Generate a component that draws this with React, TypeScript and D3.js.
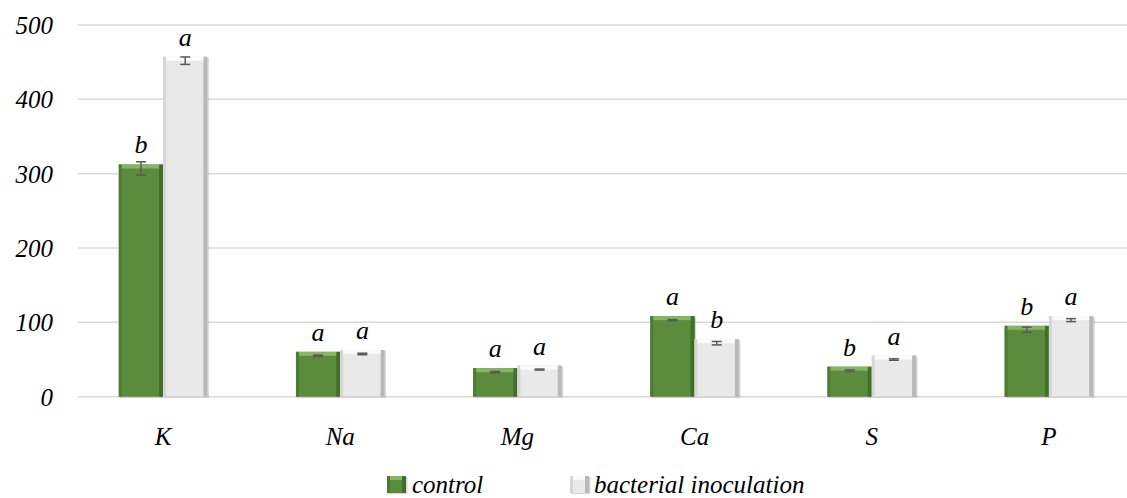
import React, {useEffect, useRef} from 'react'
import * as d3 from 'd3'

// elements on the x axis
const categories = ['K', 'Na', 'Mg', 'Ca', 'S', 'P']
const seriesNames = ['control', 'bacterial inoculation']

// means (centre of the error bars)
const controlValues = [307, 55, 33, 103, 35, 90]
const inoculationValues = [452, 57.5, 36.5, 72, 50, 103]

// error half-widths
const controlErrors = [9, 1, 1, 0.7, 1, 3.6]
const inoculationErrors = [5, 1, 0.7, 2.3, 1, 2]

// significance letters
const controlLetters = ['b', 'a', 'a', 'a', 'b', 'b']
const inoculationLetters = ['a', 'a', 'a', 'b', 'a', 'a']

const yTicks = [0, 100, 200, 300, 400, 500]

const W = 1127
const H = 498
const FONT = 'Liberation Serif, Times New Roman, serif'

// flat colours for the bevelled bars
const greenLook = {base: '#5b8c3d', left: '#4d7c31', right: '#426e28', top: '#86b563'}
const whiteLook = {base: '#e9e9e9', left: '#d6d6d6', right: '#b9b9b9', top: '#fbfbfb'}

function drawBar(g: any, x: number, y: number, w: number, h: number, look: any) {
    g.append('rect').attr('x', x + 1.5).attr('y', y + 1).attr('width', w).attr('height', h)
        .attr('fill', '#000').attr('opacity', 0.16)
    g.append('rect').attr('x', x).attr('y', y).attr('width', w).attr('height', h).attr('fill', look.base)
    g.append('rect').attr('x', x).attr('y', y).attr('width', 3).attr('height', h).attr('fill', look.left)
    g.append('rect').attr('x', x + w - 4).attr('y', y).attr('width', 4).attr('height', h).attr('fill', look.right)
    g.append('rect').attr('x', x + 3).attr('y', y).attr('width', w - 7).attr('height', Math.min(4, h)).attr('fill', look.top)
}

export default function App() {
    const node = useRef<SVGSVGElement>(null)

    useEffect(() => {
        const svg = d3.select(node.current)
        svg.selectAll('*').remove()

        const x = d3.scaleBand<string>()
            .domain(categories)
            .range([74.5, 1137.5])
            .paddingInner(0.5)
            .paddingOuter(0.25)

        const xInner = d3.scaleBand<string>()
            .domain(seriesNames)
            .range([0, x.bandwidth()])

        const y = d3.scaleLinear()
            .domain([0, 500])
            .range([396.7, 25])

        const capLift = 4 // bevel of the bars sits a bit above the mean

        const series = [
            {name: seriesNames[0], values: controlValues, errors: controlErrors, letters: controlLetters, look: greenLook},
            {name: seriesNames[1], values: inoculationValues, errors: inoculationErrors, letters: inoculationLetters, look: whiteLook},
        ]

        const label = (tx: number, ty: number, size: number, anchor: string, s: string) =>
            svg.append('text')
                .attr('x', tx).attr('y', ty)
                .attr('text-anchor', anchor)
                .attr('font-family', FONT)
                .attr('font-style', 'italic')
                .attr('font-size', size)
                .attr('fill', '#000')
                .text(s)

        // gridlines
        yTicks.forEach(t => {
            svg.append('line').attr('x1', 78).attr('x2', W).attr('y1', y(t)).attr('y2', y(t))
                .attr('stroke', '#d9d9d9').attr('stroke-width', 1.5)
            label(53, y(t) + 9, 25, 'end', String(t))
        })

        // bars
        series.forEach(s => categories.forEach((c, i) => {
            const bx = (x(c) as number) + (xInner(s.name) as number)
            const top = y(s.values[i]) - capLift
            drawBar(svg, bx, top, xInner.bandwidth(), y(0) - top, s.look)
        }))

        // error bars + letters
        series.forEach(s => categories.forEach((c, i) => {
            const cx = (x(c) as number) + (xInner(s.name) as number) + xInner.bandwidth() / 2
            const y1 = y(s.values[i] + s.errors[i])
            const y2 = y(s.values[i] - s.errors[i])
            const g = svg.append('g').attr('stroke', '#595959').attr('stroke-width', 1.5)
            g.append('line').attr('x1', cx).attr('x2', cx).attr('y1', y1).attr('y2', y2)
            g.append('line').attr('x1', cx - 5).attr('x2', cx + 5).attr('y1', y1).attr('y2', y1)
            g.append('line').attr('x1', cx - 5).attr('x2', cx + 5).attr('y1', y2).attr('y2', y2)
            label(cx, y(s.values[i]) - capLift - 11, 26, 'middle', s.letters[i])
        }))

        // x labels
        categories.forEach(c => label((x(c) as number) + x.bandwidth() / 2, 445, 25, 'middle', c))

        // legend
        drawBar(svg, 387, 476, 19, 17, greenLook)
        label(412, 493, 25, 'start', seriesNames[0])
        drawBar(svg, 570, 476, 19, 17, whiteLook)
        label(594, 493, 25, 'start', seriesNames[1])
    }, [])

    return <svg ref={node} width={W} height={H} style={{position: 'absolute', left: 0, top: 0}}></svg>
}
